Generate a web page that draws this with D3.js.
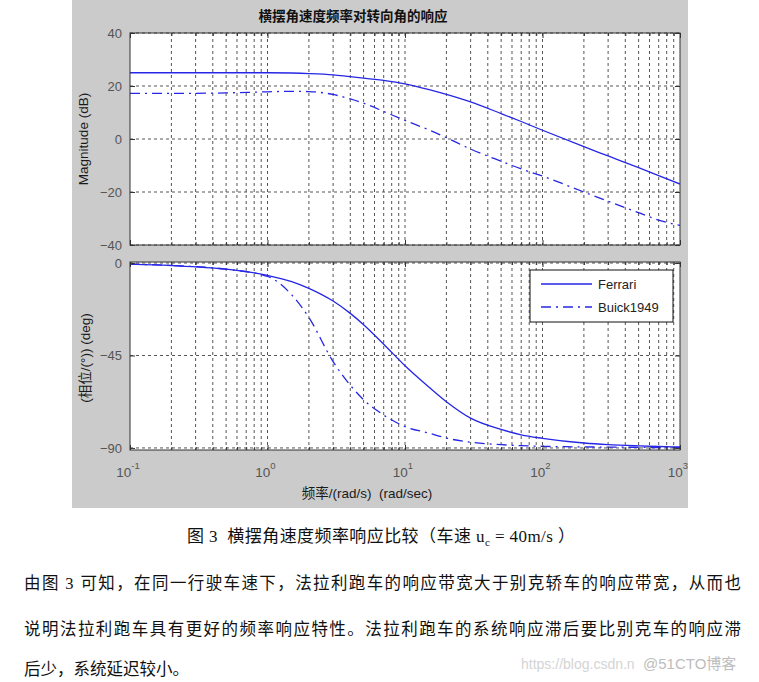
<!DOCTYPE html>
<html><head><meta charset="utf-8">
<script src="https://cdn.jsdelivr.net/npm/d3@7"></script>
<style>body{margin:0;background:#fff}svg{display:block}</style>
</head><body>
<svg id="c" width="759" height="682"></svg>
<script>
// ---- data ----
const freq        = [0.1,0.2,0.5,1,1.5,2,3,4,5,7,10,15,20,30,50,70,100,200,300,500,700,1000];
const ferrariMag  = [25,25,25,25,24.9,24.7,24.2,23.5,23,22.1,20.8,18.6,16.8,14,9.6,6.6,3.3,-2.9,-6.4,-10.8,-13.8,-17];
const buickMag    = [17.2,17.2,17.4,17.8,18,17.9,16.8,15.1,13.5,10.4,7.0,3.4,0.5,-3.8,-8.4,-11.3,-14,-20,-23.5,-27.8,-30.6,-32.6];
const ferrariPh   = [-0.5,-1.2,-3,-6,-9,-12.3,-18.5,-24.5,-30,-39.5,-50,-60.5,-67.5,-75.5,-81,-83.6,-85.3,-87.6,-88.4,-89,-89.3,-89.5];
const buickPh     = [-0.5,-1.2,-3,-6.5,-15.5,-26.5,-48,-59.5,-66.5,-74,-79.6,-82.8,-85.2,-87.2,-88.4,-88.9,-89.2,-89.5,-89.6,-89.7,-89.8,-89.8];
const seriesNames = ["Ferrari","Buick1949"];
const magTicks    = [-40,-20,0,20,40];
const phTicks     = [-90,-45,0];
const xMajor      = [0.1,1,10,100,1000];
const xExp        = ["-1","0","1","2","3"];
const title       = "横摆角速度频率对转向角的响应";
const magLabel    = "Magnitude (dB)";
const phLabel     = "(相位/(°)) (deg)";
const xLabel      = "频率/(rad/s)  (rad/sec)";
const paragraph   = ["由图 3 可知，在同一行驶车速下，法拉利跑车的响应带宽大于别克轿车的响应带宽，从而也",
                     "说明法拉利跑车具有更好的频率响应特性。法拉利跑车的系统响应滞后要比别克车的响应滞",
                     "后少，系统延迟较小。"];

const svg = d3.select("#c");
const FONT = "'Liberation Sans', Arial, 'Noto Sans CJK SC', sans-serif";
const CJK = "'Noto Sans CJK SC', sans-serif";
const lineColor = "#2626e6";
const dashes = [null, "10,5,2,5"];

// figure background
svg.append("rect").attr("x",72).attr("y",0).attr("width",616).attr("height",508).attr("fill","#cbcbcb");

const x = d3.scaleLog().domain([0.1,1000]).range([130,680]);
const yMag = d3.scaleLinear().domain([-40,40]).range([245,33]);
const yPh = d3.scaleLinear().domain([-91,0.5]).range([450,262]);
const allX = x.ticks();

function panel(y, yTicks, data, id) {
  const [y0, y1] = [y.range()[1], y.range()[0]];
  const g = svg.append("g");
  g.append("rect").attr("x",130).attr("y",y0).attr("width",550).attr("height",y1-y0).attr("fill","#fff");
  // grid
  g.selectAll(".vg").data(allX.filter(v=>v>0.1 && v<1000)).enter().append("line")
    .attr("x1",d=>x(d)).attr("x2",d=>x(d)).attr("y1",y0).attr("y2",y1)
    .attr("stroke","#555").attr("stroke-width",1).attr("stroke-dasharray","3,3");
  g.selectAll(".hg").data(yTicks).enter().append("line")
    .attr("x1",130).attr("x2",680).attr("y1",d=>y(d)).attr("y2",d=>y(d))
    .attr("stroke","#555").attr("stroke-width",1).attr("stroke-dasharray","3,3");
  // clip
  svg.append("clipPath").attr("id",id).append("rect").attr("x",130).attr("y",y0).attr("width",550).attr("height",y1-y0);
  const line = d3.line().x(d=>x(d[0])).y(d=>y(d[1])).curve(d3.curveMonotoneX);
  data.forEach((vals,i)=>{
    g.append("path").attr("clip-path",`url(#${id})`)
      .attr("d", line(freq.map((f,k)=>[f, vals[k]])))
      .attr("fill","none").attr("stroke",lineColor).attr("stroke-width",1.3)
      .attr("stroke-dasharray",dashes[i]);
  });
  // ticks (inward) on all sides
  const minor = allX.filter(v=>!xMajor.includes(v));
  const axStyle = a => { a.select(".domain").remove(); a.selectAll("line").attr("stroke","#333"); };
  g.append("g").attr("transform",`translate(0,${y1})`).call(d3.axisBottom(x).tickValues(minor).tickSize(-3).tickFormat("")).call(axStyle);
  g.append("g").attr("transform",`translate(0,${y0})`).call(d3.axisTop(x).tickValues(minor).tickSize(-3).tickFormat("")).call(axStyle);
  g.append("g").attr("transform",`translate(0,${y1})`).call(d3.axisBottom(x).tickValues(xMajor).tickSize(-5).tickFormat("")).call(axStyle);
  g.append("g").attr("transform",`translate(0,${y0})`).call(d3.axisTop(x).tickValues(xMajor).tickSize(-5).tickFormat("")).call(axStyle);
  g.append("g").attr("transform",`translate(680,0)`).call(d3.axisRight(y).tickValues(yTicks).tickSize(-5).tickFormat("")).call(axStyle);
  const la = g.append("g").attr("transform",`translate(130,0)`).call(d3.axisLeft(y).tickValues(yTicks).tickSize(-5).tickPadding(8));
  la.select(".domain").remove();
  la.selectAll("line").attr("stroke","#333");
  la.selectAll("text").attr("font-family",FONT).attr("font-size",13).attr("fill","#555");
  g.append("rect").attr("x",130).attr("y",y0).attr("width",550).attr("height",y1-y0)
    .attr("fill","none").attr("stroke","#333").attr("stroke-width",1);
  return g;
}

panel(yMag, magTicks, [ferrariMag, buickMag], "clipMag");
panel(yPh, phTicks, [ferrariPh, buickPh], "clipPh");

// x tick labels with exponents
xMajor.forEach((v,i)=>{
  const t = svg.append("text").attr("x",x(v)-2).attr("y",477).attr("text-anchor","middle")
    .attr("font-family",FONT).attr("font-size",13.5).attr("fill","#555");
  t.append("tspan").text("10");
  t.append("tspan").attr("dy",-8).attr("font-size",9.5).text(xExp[i]);
});

// title & labels
svg.append("text").attr("x",353).attr("y",21).attr("text-anchor","middle")
  .attr("font-family",CJK).attr("font-size",13.5).attr("font-weight","bold").attr("fill","#111").text(title);
svg.append("text").attr("transform","translate(88,139) rotate(-90)").attr("text-anchor","middle")
  .attr("font-family",FONT).attr("font-size",13.5).attr("fill","#1a1a1a").text(magLabel);
svg.append("text").attr("transform","translate(90,358) rotate(-90)").attr("text-anchor","middle")
  .attr("font-family",FONT).attr("font-size",13.5).attr("fill","#1a1a1a").text(phLabel);
svg.append("text").attr("x",367).attr("y",498).attr("text-anchor","middle").style("white-space","pre")
  .attr("font-family",FONT).attr("font-size",13.5).attr("fill","#1a1a1a").text(xLabel);

// legend
const lg = svg.append("g");
lg.append("rect").attr("x",530).attr("y",270).attr("width",143).attr("height",52)
  .attr("fill","#fff").attr("stroke","#111").attr("stroke-width",1);
seriesNames.forEach((n,i)=>{
  const yy = 284 + i*23;
  lg.append("line").attr("x1",541).attr("x2",592).attr("y1",yy).attr("y2",yy)
    .attr("stroke",lineColor).attr("stroke-width",1.3).attr("stroke-dasharray",dashes[i]);
  lg.append("text").attr("x",598).attr("y",yy+4.5).attr("font-family",FONT).attr("font-size",13)
    .attr("fill","#222").text(n);
});

// caption
const SERIF = "'Liberation Serif','Times New Roman','Noto Sans CJK SC',serif";
const cap = svg.append("text").attr("x",187).attr("y",542).attr("font-family",SERIF).attr("font-size",17)
  .style("white-space","pre")
  .attr("fill","#111").attr("textLength",388).attr("lengthAdjust","spacing");
cap.append("tspan").text("图 3  横摆角速度频率响应比较（车速 ");
cap.append("tspan").text("u");
cap.append("tspan").attr("dy",4).attr("font-size",11).text("c");
cap.append("tspan").attr("dy",-4).text(" = 40m/s ）");

// paragraph
paragraph.forEach((s,i)=>{
  const t = svg.append("text").attr("x",24).attr("y",[589,635,675][i])
    .attr("font-family",SERIF).attr("font-size",16.5).attr("fill","#111").text(s);
  if (i<2) t.attr("textLength",717).attr("lengthAdjust","spacing");
});

// watermark
svg.append("text").attr("x",521).attr("y",669).attr("font-family",FONT).attr("font-size",14)
  .attr("fill","#d4d4d4").text("https://blog.csdn.n");
svg.append("text").attr("x",643).attr("y",669).attr("font-family",FONT).attr("font-size",15)
  .attr("fill","#bdbdbd").text("@51CTO博客");
</script>
</body></html>
